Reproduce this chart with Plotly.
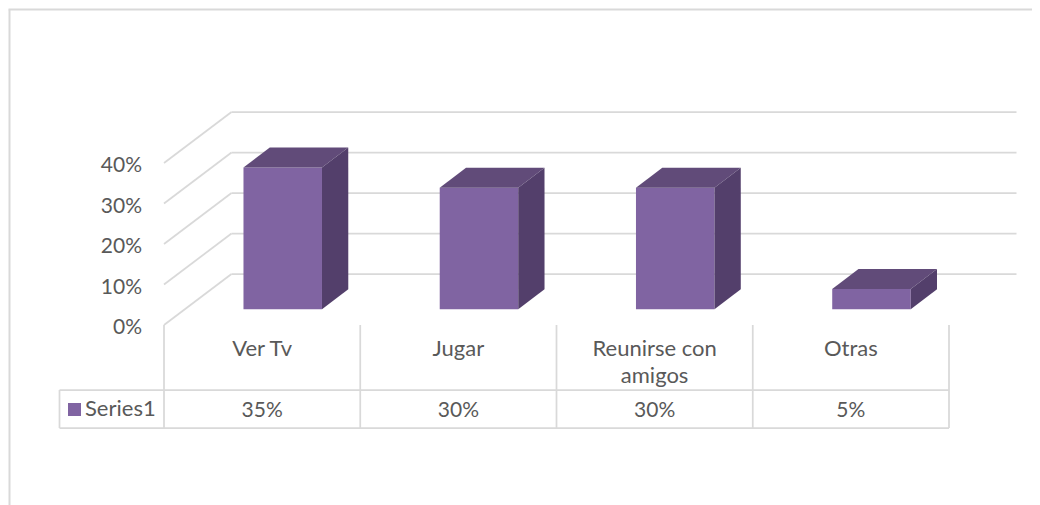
import plotly.graph_objects as go

# datos
categorias_1 = ['Ver Tv', 'Jugar', 'Reunirse con', 'Otras']
categorias_2 = ['', '', 'amigos', '']
valores = [35, 30, 30, 5]
niveles = [0, 10, 20, 30, 40]
etiquetas_eje = ['0%', '10%', '20%', '30%', '40%']
serie = 'Series1'

MARGEN_BODY = 8               # margen por defecto de la pagina
ANCHO, ALTO = 1040 - MARGEN_BODY, 505 - MARGEN_BODY
X0_PX, Y0_PX = 164, 325       # esquina frontal del piso, en pixeles de pagina
CELDA_PX = 196.25             # ancho de categoria
PCT_PX = 4.05                 # pixeles por 1%

GRIS = '#D9D9D9'
TEXTO = '#595959'
FRENTE = '#8064A2'
TECHO = '#614B79'
LADO = '#533F6B'
TAM_LETRA = 22
TAM_NUM = 21


def ux(px):
    return (px - X0_PX) / CELDA_PX


def uy(px):
    return (Y0_PX - px) / PCT_PX


def px_papel(px):
    return (px - MARGEN_BODY) / ANCHO


def py_papel(px):
    return 1 - (px - MARGEN_BODY) / ALTO


# perspectiva en unidades de los ejes
prof_x, prof_y = 67.5 / CELDA_PX, 51 / PCT_PX          # fondo de la pared
base_x, base_y = 20.6 / CELDA_PX, 15.7 / PCT_PX        # frente de la barra
barra_x, barra_y = 26.3 / CELDA_PX, 20 / PCT_PX        # profundidad de la barra
ancho_barra = 0.4
n = len(valores)


def linea(x0, y0, x1, y1):
    return dict(type='line', xref='x', yref='y', x0=x0, y0=y0, x1=x1, y1=y1,
                layer='below', line=dict(color=GRIS, width=1.75))


shapes = []
for nivel in niveles:
    shapes.append(linea(0, nivel, prof_x, nivel + prof_y))
    shapes.append(linea(prof_x, nivel + prof_y, n + prof_x, nivel + prof_y))

# tabla de datos
fila_arriba, fila_abajo = uy(390), uy(428)
for i in range(n + 1):
    shapes.append(linea(i, 0, i, fila_abajo))
shapes.append(linea(ux(59.5), fila_arriba, n, fila_arriba))
shapes.append(linea(ux(59.5), fila_abajo, n, fila_abajo))
shapes.append(linea(ux(59.5), fila_arriba, ux(59.5), fila_abajo))

# marco, solo arriba y a la izquierda
shapes.append(dict(type='line', xref='paper', yref='paper', x0=px_papel(9.5), x1=px_papel(9.5),
                   y0=0, y1=py_papel(9.5), line=dict(color=GRIS, width=2)))
shapes.append(dict(type='line', xref='paper', yref='paper', x0=px_papel(8.5), x1=1,
                   y0=py_papel(9.5), y1=py_papel(9.5), line=dict(color=GRIS, width=2)))

fig = go.Figure()

centros = [i + 0.5 + base_x for i in range(n)]
fig.add_trace(go.Bar(x=centros, y=valores, base=base_y, width=ancho_barra, name=serie,
                     marker=dict(color=FRENTE, line=dict(width=0)), showlegend=False))

for c, v in zip(centros, valores):
    izq, der = c - ancho_barra / 2, c + ancho_barra / 2
    tope = v + base_y
    fig.add_trace(go.Scatter(x=[izq, der, der + barra_x, izq + barra_x, izq],
                             y=[tope, tope, tope + barra_y, tope + barra_y, tope],
                             mode='lines', fill='toself', fillcolor=TECHO,
                             line=dict(width=0), showlegend=False, hoverinfo='skip'))
    fig.add_trace(go.Scatter(x=[der, der + barra_x, der + barra_x, der, der],
                             y=[base_y, base_y + barra_y, tope + barra_y, tope, base_y],
                             mode='lines', fill='toself', fillcolor=LADO,
                             line=dict(width=0), showlegend=False, hoverinfo='skip'))

medios = [i + 0.5 for i in range(n)]
fig.add_trace(go.Scatter(x=medios, y=[uy(350)] * n, text=categorias_1,
                         mode='text', textposition='middle center', showlegend=False,
                         textfont=dict(color=TEXTO, size=TAM_LETRA)))
fig.add_trace(go.Scatter(x=medios, y=[uy(377.5)] * n, text=categorias_2,
                         mode='text', textposition='middle center', showlegend=False,
                         textfont=dict(color=TEXTO, size=TAM_LETRA)))
fig.add_trace(go.Scatter(x=medios, y=[uy(412)] * n,
                         text=[f'{v}%' for v in valores],
                         mode='text', textposition='middle center', showlegend=False,
                         textfont=dict(color=TEXTO, size=TAM_NUM)))

# clave de la serie dentro de la tabla
fig.add_trace(go.Scatter(x=[ux(74.5)], y=[uy(409.5)], mode='markers', showlegend=False,
                         marker=dict(symbol='square', size=13, color=FRENTE)))
fig.add_trace(go.Scatter(x=[ux(85)], y=[uy(410)], text=[serie], mode='text',
                         textposition='middle right', showlegend=False,
                         textfont=dict(color=TEXTO, size=TAM_LETRA)))

fig.update_layout(
    width=ANCHO, height=ALTO,
    margin=dict(l=0, r=0, t=0, b=0),
    paper_bgcolor='white', plot_bgcolor='white',
    font=dict(family='Lato', color=TEXTO, size=TAM_NUM),
    shapes=shapes,
    showlegend=False,
    xaxis=dict(range=[ux(MARGEN_BODY), ux(1040)], visible=False),
    yaxis=dict(range=[uy(505), uy(MARGEN_BODY)], anchor='free', position=px_papel(X0_PX),
               tickvals=niveles, ticktext=etiquetas_eje, showgrid=False, zeroline=False,
               showline=False, ticks='', ticklabelstandoff=22, ticklabelshift=2),
)

fig.write_html("out.html")
